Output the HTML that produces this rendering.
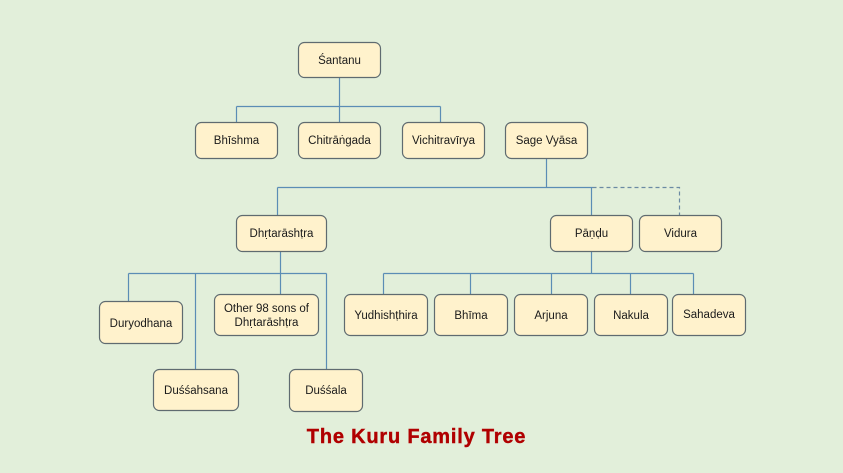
<!DOCTYPE html>
<html><head><meta charset="utf-8"><style>
html,body{margin:0;padding:0;}
body{width:843px;height:473px;background:#e2efda;overflow:hidden;}
svg{display:block;}
text{font-family:"Liberation Sans",Arial,sans-serif;font-size:11.5px;fill:#1a1a1a;}
.t{font-size:20px;font-weight:bold;fill:#b00000;letter-spacing:0.8px;stroke:#b00000;stroke-width:0.4px;}
</style></head><body>
<svg width="843" height="473" viewBox="0 0 843 473" xmlns="http://www.w3.org/2000/svg">
<rect width="843" height="473" fill="#e2efda"/>
<g stroke="#5b8db5" stroke-width="1.2" fill="none">
<path d="M339.5 77V106.5M236.5 106.5H440.5M236.5 106.5V122M339.5 106.5V122M440.5 106.5V122"/>
<path d="M546.5 158V187.5M277.5 187.5H592.5M277.5 187.5V216M591.5 187.5V216"/>
<path d="M280.5 251V273.5M128.5 273.5H326.5M128.5 273.5V302M195.5 273.5V370M280.5 273.5V295M326.5 273.5V370"/>
<path d="M591.5 251V273.5M383.5 273.5H693.5M383.5 273.5V295M470.5 273.5V295M551.5 273.5V295M630.5 273.5V295M693.5 273.5V295"/>
</g>
<path d="M592.5 187.5H679.5V215" stroke="#6b8aa3" stroke-width="1.2" fill="none" stroke-dasharray="4 3"/>
<g fill="#fff2cc" stroke="#5f6b70" stroke-width="1.2">
<rect x="298.5" y="42.5" width="82" height="35" rx="6"/>
<rect x="195.5" y="122.5" width="82" height="36" rx="6"/>
<rect x="298.5" y="122.5" width="82" height="36" rx="6"/>
<rect x="402.5" y="122.5" width="82" height="36" rx="6"/>
<rect x="505.5" y="122.5" width="82" height="36" rx="6"/>
<rect x="236.5" y="215.5" width="90" height="36" rx="6"/>
<rect x="550.5" y="215.5" width="82" height="36" rx="6"/>
<rect x="639.5" y="215.5" width="82" height="36" rx="6"/>
<rect x="99.5" y="301.5" width="83" height="42" rx="6"/>
<rect x="214.5" y="294.5" width="104" height="41" rx="6"/>
<rect x="153.5" y="369.5" width="85" height="41" rx="6"/>
<rect x="289.5" y="369.5" width="73" height="42" rx="6"/>
<rect x="344.5" y="294.5" width="83" height="41" rx="6"/>
<rect x="434.5" y="294.5" width="73" height="41" rx="6"/>
<rect x="514.5" y="294.5" width="73" height="41" rx="6"/>
<rect x="594.5" y="294.5" width="73" height="41" rx="6"/>
<rect x="672.5" y="294.5" width="73" height="41" rx="6"/>
</g>
<g text-anchor="middle">
<text x="339.5" y="64">Śantanu</text>
<text x="236.5" y="144">Bhīshma</text>
<text x="339.5" y="144">Chitrāṅgada</text>
<text x="443.5" y="144">Vichitravīrya</text>
<text x="546.5" y="144">Sage Vyāsa</text>
<text x="281.5" y="237">Dhṛtarāshṭra</text>
<text x="591.5" y="237">Pāṇḍu</text>
<text x="680.5" y="237">Vidura</text>
<text x="141" y="327">Duryodhana</text>
<text x="266.5" y="312">Other 98 sons of</text>
<text x="266.5" y="326">Dhṛtarāshṭra</text>
<text x="196" y="394">Duśśahsana</text>
<text x="326" y="394">Duśśala</text>
<text x="386" y="319">Yudhishṭhira</text>
<text x="471" y="319">Bhīma</text>
<text x="551" y="319">Arjuna</text>
<text x="631" y="319">Nakula</text>
<text x="709" y="318">Sahadeva</text>
<text class="t" x="416.5" y="443">The Kuru Family Tree</text>
</g>
</svg>
</body></html>
